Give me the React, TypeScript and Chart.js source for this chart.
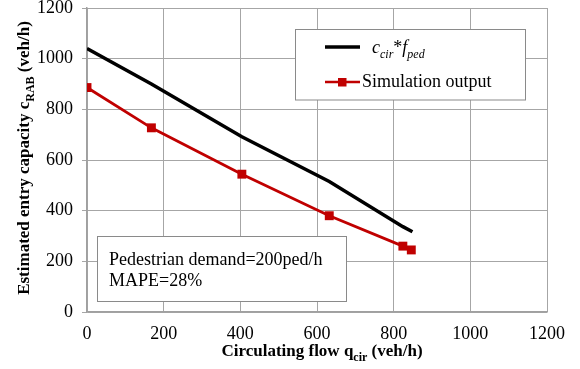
import React, { useEffect, useRef } from 'react';
import { Chart, registerables } from 'chart.js';
Chart.register(...registerables);

const simFlow = [0, 168, 404, 632, 824, 846];
const simCapacity = [886, 727, 544, 380, 260, 245];
const formulaFlow = [0, 168, 404, 632, 824, 849];
const formulaCapacity = [1040, 900, 692, 515, 337, 317];
const axisMin = 0;
const axisMax = 1200;
const axisStep = 200;
const annotationLines = ['Pedestrian demand=200ped/h', 'MAPE=28%'];

const SERIF = "'Liberation Serif', 'Times New Roman', serif";

type Seg = { t: string; italic?: boolean; bold?: boolean; sub?: boolean };

function fontFor(s: Seg, size: number) {
  const sz = s.sub ? Math.round(size * 0.68) : size;
  return `${s.italic ? 'italic ' : ''}${s.bold ? 'bold ' : ''}${sz}px ${SERIF}`;
}

function drawRich(ctx: CanvasRenderingContext2D, segs: Seg[], x: number, y: number, size: number, align: 'left' | 'center') {
  let total = 0;
  const widths: number[] = [];
  for (const s of segs) {
    ctx.font = fontFor(s, size);
    const w = ctx.measureText(s.t).width;
    widths.push(w);
    total += w;
  }
  let cx = align === 'center' ? x - total / 2 : x;
  ctx.textAlign = 'left';
  ctx.textBaseline = 'alphabetic';
  segs.forEach((s, i) => {
    ctx.font = fontFor(s, size);
    ctx.fillText(s.t, cx, y + (s.sub ? size * 0.28 : 0));
    cx += widths[i];
  });
}

const overlayPlugin = {
  id: 'overlay',
  afterDraw(chart: any) {
    const ctx: CanvasRenderingContext2D = chart.ctx;
    ctx.save();
    ctx.fillStyle = '#000';
    // X title
    drawRich(ctx, [
      { t: 'Circulating flow q', bold: true },
      { t: 'cir', bold: true, sub: true },
      { t: ' (veh/h)', bold: true },
    ], 322, 356, 17, 'center');
    // Y title
    ctx.save();
    ctx.translate(29, 158);
    ctx.rotate(-Math.PI / 2);
    drawRich(ctx, [
      { t: 'Estimated entry capacity c', bold: true },
      { t: 'RAB', bold: true, sub: true },
      { t: ' (veh/h)', bold: true },
    ], 0, 0, 17, 'center');
    ctx.restore();

    // Legend box
    ctx.fillStyle = '#fff';
    ctx.strokeStyle = '#8a8a8a';
    ctx.lineWidth = 1;
    ctx.fillRect(295, 29.5, 230, 70.5);
    ctx.strokeRect(295.5, 29.5, 230, 70.5);
    ctx.strokeStyle = '#000';
    ctx.lineWidth = 3.5;
    ctx.beginPath();
    ctx.moveTo(325, 47);
    ctx.lineTo(360, 47);
    ctx.stroke();
    ctx.fillStyle = '#000';
    drawRich(ctx, [
      { t: 'c', italic: true },
      { t: 'cir', italic: true, sub: true },
      { t: '*' },
      { t: 'f', italic: true },
      { t: 'ped', italic: true, sub: true },
    ], 372, 53, 18, 'left');
    ctx.strokeStyle = '#c00000';
    ctx.lineWidth = 2.5;
    ctx.beginPath();
    ctx.moveTo(325, 82);
    ctx.lineTo(360, 82);
    ctx.stroke();
    ctx.fillStyle = '#c00000';
    ctx.fillRect(338, 78, 8.5, 8.5);
    ctx.fillStyle = '#000';
    drawRich(ctx, [{ t: 'Simulation output' }], 362, 87, 18, 'left');

    // Annotation box
    ctx.fillStyle = '#fff';
    ctx.strokeStyle = '#8a8a8a';
    ctx.lineWidth = 1;
    ctx.fillRect(97, 236, 249, 65);
    ctx.strokeRect(97.5, 236.5, 249, 65);
    ctx.fillStyle = '#000';
    drawRich(ctx, [{ t: annotationLines[0] }], 109, 265, 18, 'left');
    drawRich(ctx, [{ t: annotationLines[1] }], 109, 286, 18, 'left');
    ctx.restore();
  },
};

export default function App() {
  const ref = useRef<HTMLCanvasElement>(null);
  useEffect(() => {
    if (!ref.current) return;
    const chart = new Chart(ref.current, {
      type: 'scatter',
      data: {
        datasets: [
          {
            label: 'c_cir*f_ped',
            data: formulaFlow.map((x, i) => ({ x, y: formulaCapacity[i] })),
            showLine: true,
            borderColor: '#000',
            backgroundColor: '#000',
            borderWidth: 3.5,
            pointRadius: 0,
            tension: 0,
          },
          {
            label: 'Simulation output',
            data: simFlow.map((x, i) => ({ x, y: simCapacity[i] })),
            showLine: true,
            borderColor: '#c00000',
            backgroundColor: '#c00000',
            borderWidth: 2.8,
            pointStyle: 'rect',
            pointRadius: 6.3,
            pointBorderWidth: 0,
            tension: 0,
          },
        ],
      },
      options: {
        animation: false,
        responsive: false,
        layout: { padding: { left: 0, top: 8, right: 33, bottom: 0 } },
        plugins: { legend: { display: false }, tooltip: { enabled: false } },
        scales: {
          x: {
            type: 'linear',
            min: axisMin,
            max: axisMax,
            ticks: { stepSize: axisStep, color: '#000', font: { family: SERIF, size: 18 }, padding: 11, maxRotation: 0, callback: (v: any) => String(v) },
            grid: { color: '#a6a6a6', lineWidth: 1, drawTicks: false },
            border: { color: '#a0a0a0', width: 1.5 },
            afterFit: (s: any) => { s.height = 57; s.paddingLeft = 0; s.paddingRight = 0; },
          },
          y: {
            type: 'linear',
            min: axisMin,
            max: axisMax,
            ticks: { stepSize: axisStep, color: '#000', font: { family: SERIF, size: 18 }, padding: 9, callback: (v: any) => String(v) },
            grid: { color: '#a6a6a6', lineWidth: 1, tickLength: 5 },
            border: { color: '#a0a0a0', width: 1.5 },
            afterFit: (s: any) => { s.width = 87; s.paddingTop = 0; s.paddingBottom = 0; },
          },
        },
      },
      plugins: [overlayPlugin],
    });
    return () => chart.destroy();
  }, []);
  return (
    <div style={{ position: 'absolute', left: 0, top: 0, width: 580, height: 369, background: '#fff' }}>
      <canvas ref={ref} width={580} height={369} style={{ display: 'block' }} />
    </div>
  );
}
